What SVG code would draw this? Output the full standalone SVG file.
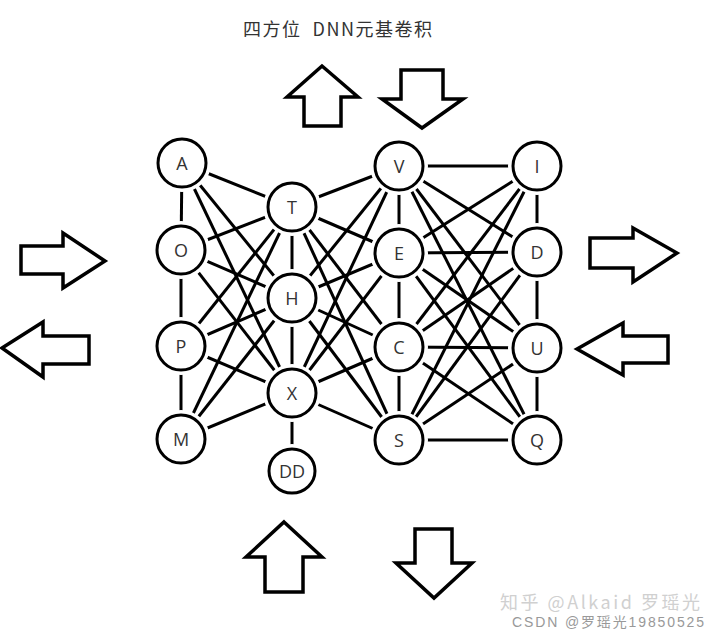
<svg xmlns="http://www.w3.org/2000/svg" width="720" height="636" viewBox="0 0 720 636">
<style>
.e{stroke:#000;stroke-width:3;stroke-linecap:butt}
.halo{fill:#fff;stroke:none}
.n{fill:#fff;stroke:#000;stroke-width:3}
.t{font-family:"Open Sans","Noto Sans","Liberation Sans",sans-serif;font-size:18px;fill:#333;text-anchor:middle;dominant-baseline:central}
.ar{fill:#fff;stroke:#000;stroke-width:3.5;stroke-linejoin:miter}
</style>
<rect width="720" height="636" fill="#fff"/>
<text x="243" y="36" xml:space="preserve" textLength="189" lengthAdjust="spacing" font-family="'Noto Sans CJK SC','Noto Sans',sans-serif" font-size="18" fill="#333">四方位  DNN元基卷积</text>
<g id="arrows">
<polygon class="ar" points="322,66 358,97 341,97 341,126 304,126 304,97 287,97"/>
<polygon class="ar" points="401,70 443,70 443,99 463,99 422,128 382,99 401,99"/>
<polygon class="ar" points="21,246 63,246 63,233 105,261 63,288 63,274 21,274"/>
<polygon class="ar" points="2,348 43,322 43,336 89,336 89,364 43,364 43,377"/>
<polygon class="ar" points="590,238 633,238 633,228 677,253 633,282 633,268 590,268"/>
<polygon class="ar" points="577,349 623,323 623,336 668,336 668,363 623,363 623,375"/>
<polygon class="ar" points="284,522 322,557 303,557 303,592 265,592 265,557 246,557"/>
<polygon class="ar" points="415,529 452,529 452,563 472,563 434,598 396,563 415,563"/>
</g>
<g id="connectors">
<line class="e" x1="182" y1="163" x2="181" y2="250"/>
<line class="e" x1="181" y1="250" x2="181" y2="346"/>
<line class="e" x1="181" y1="346" x2="181" y2="439"/>
<line class="e" x1="292" y1="207" x2="292" y2="298"/>
<line class="e" x1="292" y1="298" x2="292" y2="393"/>
<line class="e" x1="292" y1="393" x2="292" y2="471"/>
<line class="e" x1="399" y1="166" x2="399" y2="253"/>
<line class="e" x1="399" y1="253" x2="399" y2="347"/>
<line class="e" x1="399" y1="347" x2="399" y2="440"/>
<line class="e" x1="537" y1="166" x2="537" y2="252"/>
<line class="e" x1="537" y1="252" x2="537" y2="348"/>
<line class="e" x1="537" y1="348" x2="537" y2="440"/>
<line class="e" x1="182" y1="163" x2="292" y2="207"/>
<line class="e" x1="182" y1="163" x2="292" y2="298"/>
<line class="e" x1="182" y1="163" x2="292" y2="393"/>
<line class="e" x1="181" y1="250" x2="292" y2="207"/>
<line class="e" x1="181" y1="250" x2="292" y2="298"/>
<line class="e" x1="181" y1="250" x2="292" y2="393"/>
<line class="e" x1="181" y1="346" x2="292" y2="207"/>
<line class="e" x1="181" y1="346" x2="292" y2="298"/>
<line class="e" x1="181" y1="346" x2="292" y2="393"/>
<line class="e" x1="181" y1="439" x2="292" y2="207"/>
<line class="e" x1="181" y1="439" x2="292" y2="298"/>
<line class="e" x1="181" y1="439" x2="292" y2="393"/>
<line class="e" x1="292" y1="207" x2="399" y2="166"/>
<line class="e" x1="292" y1="207" x2="399" y2="253"/>
<line class="e" x1="292" y1="207" x2="399" y2="347"/>
<line class="e" x1="292" y1="207" x2="399" y2="440"/>
<line class="e" x1="292" y1="298" x2="399" y2="166"/>
<line class="e" x1="292" y1="298" x2="399" y2="253"/>
<line class="e" x1="292" y1="298" x2="399" y2="347"/>
<line class="e" x1="292" y1="298" x2="399" y2="440"/>
<line class="e" x1="292" y1="393" x2="399" y2="166"/>
<line class="e" x1="292" y1="393" x2="399" y2="253"/>
<line class="e" x1="292" y1="393" x2="399" y2="347"/>
<line class="e" x1="292" y1="393" x2="399" y2="440"/>
<line class="e" x1="399" y1="166" x2="537" y2="166"/>
<line class="e" x1="399" y1="166" x2="537" y2="252"/>
<line class="e" x1="399" y1="166" x2="537" y2="348"/>
<line class="e" x1="399" y1="166" x2="537" y2="440"/>
<line class="e" x1="399" y1="253" x2="537" y2="166"/>
<line class="e" x1="399" y1="253" x2="537" y2="252"/>
<line class="e" x1="399" y1="253" x2="537" y2="348"/>
<line class="e" x1="399" y1="253" x2="537" y2="440"/>
<line class="e" x1="399" y1="347" x2="537" y2="166"/>
<line class="e" x1="399" y1="347" x2="537" y2="252"/>
<line class="e" x1="399" y1="347" x2="537" y2="348"/>
<line class="e" x1="399" y1="347" x2="537" y2="440"/>
<line class="e" x1="399" y1="440" x2="537" y2="166"/>
<line class="e" x1="399" y1="440" x2="537" y2="252"/>
<line class="e" x1="399" y1="440" x2="537" y2="348"/>
<line class="e" x1="399" y1="440" x2="537" y2="440"/>
</g>
<g id="node-A"><circle class="halo" cx="182" cy="163" r="29"/><circle class="n" cx="182" cy="163" r="24"/><text class="t" x="182" y="163">A</text></g>
<g id="node-O"><circle class="halo" cx="181" cy="250" r="29"/><circle class="n" cx="181" cy="250" r="24"/><text class="t" x="181" y="250">O</text></g>
<g id="node-P"><circle class="halo" cx="181" cy="346" r="29"/><circle class="n" cx="181" cy="346" r="24"/><text class="t" x="181" y="346">P</text></g>
<g id="node-M"><circle class="halo" cx="181" cy="439" r="29"/><circle class="n" cx="181" cy="439" r="24"/><text class="t" x="181" y="439">M</text></g>
<g id="node-T"><circle class="halo" cx="292" cy="207" r="29"/><circle class="n" cx="292" cy="207" r="24"/><text class="t" x="292" y="207">T</text></g>
<g id="node-H"><circle class="halo" cx="292" cy="298" r="29"/><circle class="n" cx="292" cy="298" r="24"/><text class="t" x="292" y="298">H</text></g>
<g id="node-X"><circle class="halo" cx="292" cy="393" r="29"/><circle class="n" cx="292" cy="393" r="24"/><text class="t" x="292" y="393">X</text></g>
<g id="node-DD"><ellipse class="halo" cx="292" cy="471" rx="28" ry="27"/><ellipse class="n" cx="292" cy="471" rx="23" ry="22"/><text class="t" x="292" y="471">DD</text></g>
<g id="node-V"><circle class="halo" cx="399" cy="166" r="29"/><circle class="n" cx="399" cy="166" r="24"/><text class="t" x="399" y="166">V</text></g>
<g id="node-E"><circle class="halo" cx="399" cy="253" r="29"/><circle class="n" cx="399" cy="253" r="24"/><text class="t" x="399" y="253">E</text></g>
<g id="node-C"><circle class="halo" cx="399" cy="347" r="29"/><circle class="n" cx="399" cy="347" r="24"/><text class="t" x="399" y="347">C</text></g>
<g id="node-S"><circle class="halo" cx="399" cy="440" r="29"/><circle class="n" cx="399" cy="440" r="24"/><text class="t" x="399" y="440">S</text></g>
<g id="node-I"><circle class="halo" cx="537" cy="166" r="29"/><circle class="n" cx="537" cy="166" r="24"/><text class="t" x="537" y="166">I</text></g>
<g id="node-D"><circle class="halo" cx="537" cy="252" r="29"/><circle class="n" cx="537" cy="252" r="24"/><text class="t" x="537" y="252">D</text></g>
<g id="node-U"><circle class="halo" cx="537" cy="348" r="29"/><circle class="n" cx="537" cy="348" r="24"/><text class="t" x="537" y="348">U</text></g>
<g id="node-Q"><circle class="halo" cx="537" cy="440" r="29"/><circle class="n" cx="537" cy="440" r="24"/><text class="t" x="537" y="440">Q</text></g>
<text x="500" y="609" textLength="200" lengthAdjust="spacing" font-family="'Noto Sans CJK SC','Noto Sans',sans-serif" font-size="18" fill="#d0d0d0">知乎 @Alkaid 罗瑶光</text>
<text x="512" y="627" textLength="192" lengthAdjust="spacing" font-family="'Liberation Sans','Noto Sans CJK SC',sans-serif" font-size="14" fill="#999">CSDN @罗瑶光19850525</text>
</svg>
